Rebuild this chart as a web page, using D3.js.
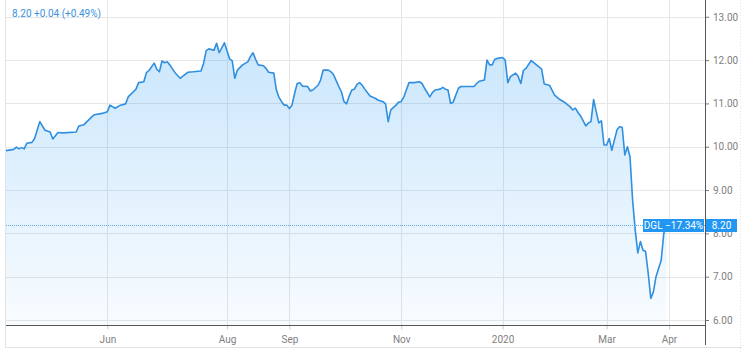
<!DOCTYPE html>
<html><head><meta charset="utf-8">
<script src="https://cdn.jsdelivr.net/npm/d3@7"></script>
<style>
html,body{margin:0;padding:0;background:#fff;}
svg{display:block;font-family:Roboto,"Open Sans",sans-serif;}
</style></head>
<body>
<svg id="chart" width="747" height="353"></svg>
<script>
// trading-day index of each sample and the closing price
const days = [0,3,4,5,6,7,8,10,11,13,15,17,18,20,22,27,28,30,33,34,37,39,40,42,44,46,47,49,50,51,53,54,55,57,58,59,60,61,62,63,65,67,68,70,72,75,76,77,78,80,81,82,84,86,87,88,89,91,93,94,95,96,97,99,100,101,103,104,105,106,107,108,109,110,111,112,113,114,116,117,118,120,121,122,124,125,126,128,129,130,131,132,133,134,135,136,137,138,140,142,143,145,146,147,148,150,151,152,153,155,157,159,160,161,163,164,165,167,168,169,170,171,172,174,175,180,181,182,184,185,186,187,188,189,191,192,193,194,196,197,198,199,200,202,203,206,207,209,211,213,215,217,218,219,220,221,223,224,225,226,227,228,229,230,231,232,233,235,236,237,238,239,240,241,242,243,244,245,246,247,248,249,250,252,253,254];
const prices = [9.91,9.94,9.99,9.95,9.98,9.95,10.08,10.10,10.19,10.58,10.38,10.34,10.18,10.33,10.32,10.34,10.48,10.51,10.69,10.74,10.77,10.81,10.96,10.89,10.96,10.99,11.15,11.27,11.33,11.48,11.50,11.71,11.76,11.93,11.79,11.73,11.98,11.94,11.96,11.89,11.71,11.58,11.63,11.72,11.73,11.75,11.93,12.22,12.26,12.23,12.39,12.17,12.40,12.03,11.99,11.58,11.77,11.89,11.96,12.08,12.17,12.02,11.89,11.87,11.81,11.72,11.70,11.31,11.14,11.04,10.96,10.96,10.88,10.96,11.23,11.46,11.48,11.40,11.39,11.29,11.31,11.42,11.54,11.77,11.77,11.73,11.66,11.39,11.27,11.04,10.99,11.17,11.31,11.33,11.44,11.48,11.42,11.33,11.17,11.12,11.08,11.04,10.99,10.58,10.85,10.96,11.03,11.04,11.15,11.48,11.48,11.50,11.46,11.35,11.15,11.25,11.31,11.33,11.37,11.33,11.31,11.00,11.03,11.35,11.39,11.39,11.46,11.51,11.54,12.00,11.89,11.89,12.02,12.04,12.06,12.00,11.48,11.62,11.70,11.62,11.46,11.76,11.81,11.99,11.94,11.79,11.45,11.42,11.19,11.09,11.02,10.92,10.85,10.89,10.79,10.71,10.48,10.55,10.58,11.09,10.81,10.55,10.60,10.04,10.04,10.19,9.92,10.39,10.46,10.45,9.81,10.00,9.77,8.77,8.08,7.55,7.81,7.61,7.58,7.08,6.50,6.65,7.00,7.38,8.00,8.20];
const tickDays = [39,85,109,152,191,231,255];
const tickLabels = ["Jun","Aug","Sep","Nov","2020","Mar","Apr"];
const yTicks = [6,7,8,9,10,11,12,13];
const lastPrice = 8.20;
const headerText = "8.20 +0.04 (+0.49%)";
const badgeText = "DGL \u221217.34%";

const data = days.map((d,i)=>({d, v: prices[i]}));
const svg = d3.select("#chart");
const left = 6, right = 705, axisY = 325.5;
const x = d3.scaleLinear().domain([0,255]).range([6,669]);
const y = d3.scaleLinear().domain([6,13]).range([320,16.8]);

// frame
svg.append("line").attr("x1",5.5).attr("x2",5.5).attr("y1",0).attr("y2",347).attr("stroke","#e3e3e3");
svg.append("line").attr("x1",5).attr("x2",742).attr("y1",347.5).attr("y2",347.5).attr("stroke","#e3e3e3");
svg.append("line").attr("x1",740.5).attr("x2",740.5).attr("y1",0).attr("y2",353).attr("stroke","#e3e3e3").attr("stroke-dasharray","1,2");

// grid
const grid = svg.append("g");
grid.selectAll("line.h").data(yTicks).join("line")
  .attr("x1",left).attr("x2",right)
  .attr("y1",d=>Math.round(y(d))+0.5).attr("y2",d=>Math.round(y(d))+0.5)
  .attr("stroke","#e6e6e6");
grid.selectAll("line.v").data(tickDays).join("line")
  .attr("x1",d=>Math.round(x(d))+0.5).attr("x2",d=>Math.round(x(d))+0.5)
  .attr("y1",0).attr("y2",axisY)
  .attr("stroke","#e6e6e6");

// gradient
const defs = svg.append("defs");
const grad = defs.append("linearGradient").attr("id","fillg")
  .attr("gradientUnits","userSpaceOnUse").attr("x1",0).attr("y1",40).attr("x2",0).attr("y2",axisY);
grad.append("stop").attr("offset","0%").attr("stop-color","rgb(33,150,243)").attr("stop-opacity",0.24);
grad.append("stop").attr("offset","100%").attr("stop-color","rgb(33,150,243)").attr("stop-opacity",0.03);

const area = d3.area().x(d=>x(d.d)).y0(axisY).y1(d=>y(d.v));
const line = d3.line().x(d=>x(d.d)).y(d=>y(d.v));
svg.append("path").datum(data).attr("d",area).attr("fill","url(#fillg)");
svg.append("path").datum(data).attr("d",line).attr("fill","none")
  .attr("stroke","#2f8fe0").attr("stroke-width",1.6).attr("stroke-linejoin","round");

// last price dotted line
const ly = Math.round(y(lastPrice))+0.5;
svg.append("line").attr("x1",left).attr("x2",right).attr("y1",ly).attr("y2",ly)
  .attr("stroke","#5aa9ec").attr("stroke-width",1).attr("stroke-dasharray","1,1");

// right axis
const ya = svg.append("g").attr("transform",`translate(${right},0)`)
  .call(d3.axisRight(y).tickValues(yTicks).tickFormat(d3.format(".2f")).tickSize(4).tickPadding(4));
ya.select(".domain").remove();
ya.selectAll("line").attr("stroke","#777");
ya.selectAll("text").attr("fill","#808080").style("font-size","10px").attr("font-family","Roboto,sans-serif");
svg.append("line").attr("x1",right+0.5).attr("x2",right+0.5).attr("y1",0).attr("y2",345).attr("stroke","#555");

// bottom axis
const xa = svg.append("g").attr("transform",`translate(0,${axisY})`)
  .call(d3.axisBottom(x).tickValues(tickDays).tickFormat((d,i)=>tickLabels[i]).tickSize(4).tickPadding(6));
xa.select(".domain").remove();
xa.selectAll("line").attr("stroke","#ccc");
xa.selectAll("text").attr("fill","#808080").style("font-size","10px").attr("font-family","Roboto,sans-serif");
svg.append("line").attr("x1",left).attr("x2",right).attr("y1",axisY).attr("y2",axisY).attr("stroke","#555");

// badges
const bh = 13;
svg.append("rect").attr("x",643).attr("y",ly-bh/2).attr("width",61).attr("height",bh).attr("fill","#2196f3");
svg.append("text").attr("x",673.5).attr("y",ly+3.5).attr("text-anchor","middle")
  .attr("fill","#fff").style("font-size","10px").text(badgeText);
svg.append("rect").attr("x",706).attr("y",ly-bh/2).attr("width",31).attr("height",bh).attr("fill","#2196f3");
svg.append("text").attr("x",721.5).attr("y",ly+3.5).attr("text-anchor","middle")
  .attr("fill","#fff").style("font-size","10px").text(d3.format(".2f")(lastPrice));

// header
svg.append("text").attr("x",12).attr("y",17).attr("fill","#3a93e0").style("font-size","10px").text(headerText);
</script>
</body></html>
